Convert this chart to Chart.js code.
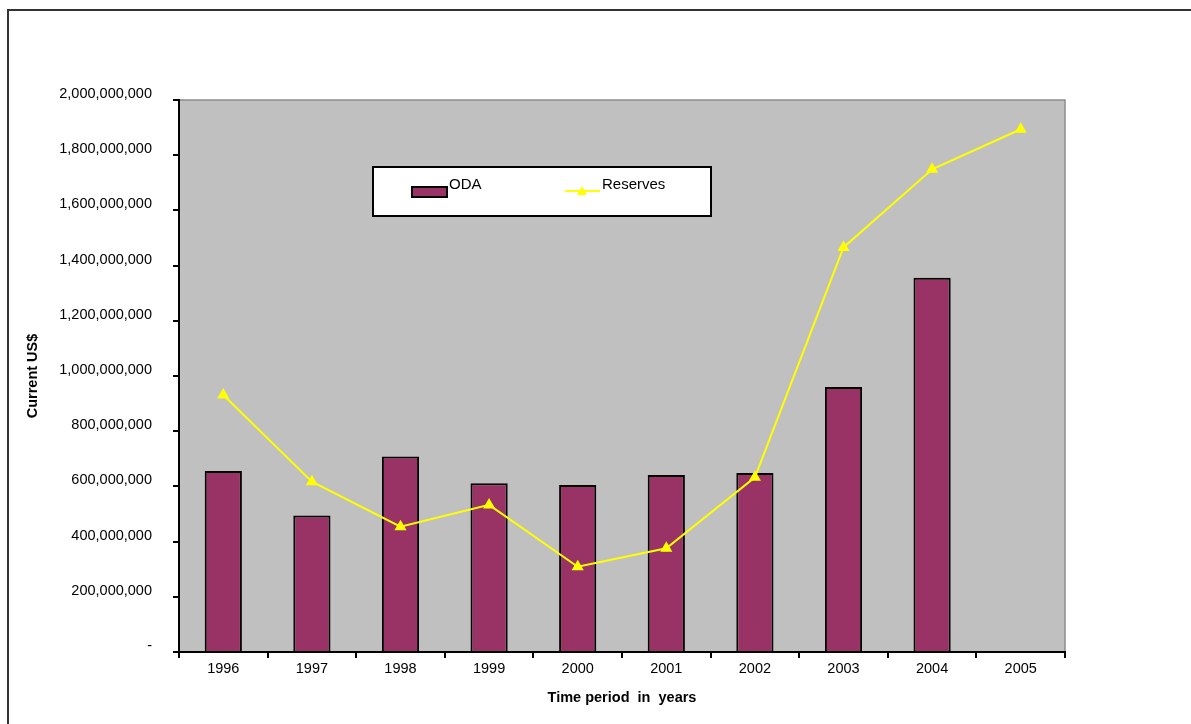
<!DOCTYPE html>
<html>
<head>
<meta charset="utf-8">
<title>ODA and Reserves</title>
<script src="https://cdn.jsdelivr.net/npm/chart.js@4"></script>
<style>
html,body{margin:0;padding:0;background:#fff;overflow:hidden;}
#wrap{position:relative;width:1191px;height:724px;overflow:hidden;}
#frame{position:absolute;left:7px;top:9px;width:1300px;height:800px;border:2px solid #333;}
#chart{position:absolute;left:0;top:0;}
</style>
</head>
<body>
<div id="wrap">
  <div id="frame"></div>
  <canvas id="chart" width="1191" height="724"></canvas>
</div>
<script>
const FONT='"Liberation Sans", Arial, sans-serif';

const years=["1996","1997","1998","1999","2000","2001","2002","2003","2004","2005"];
const oda=[656e6,495e6,708e6,611e6,605e6,641e6,649e6,960e6,1356e6,null];
const reserves=[931e6,617e6,454e6,533e6,309e6,376e6,633e6,1466e6,1749e6,1894e6];
const seriesNames=["ODA","Reserves"];
const odaColor="#993366";
const reservesColor="#ffff00";

// grey plot area with a thin darker edge on top and right
const plotBg={
  id:"plotBg",
  beforeDraw(chart){
    const {ctx,chartArea:a}=chart;
    ctx.save();
    ctx.fillStyle="#c0c0c0";
    ctx.fillRect(a.left,a.top,a.right-a.left,a.bottom-a.top);
    ctx.strokeStyle="#8c8c8c";
    ctx.lineWidth=1.5;
    ctx.beginPath();
    ctx.moveTo(a.left,a.top);
    ctx.lineTo(a.right,a.top);
    ctx.lineTo(a.right,a.bottom);
    ctx.stroke();
    ctx.restore();
  }
};

// boxed legend sitting inside the plot
const boxLegend={
  id:"boxLegend",
  afterDraw(chart){
    const ctx=chart.ctx;
    ctx.save();
    ctx.fillStyle="#fff";
    ctx.fillRect(373,167,338,49);
    ctx.strokeStyle="#000";
    ctx.lineWidth=2;
    ctx.strokeRect(373,167,338,49);

    // ODA swatch
    ctx.fillStyle=odaColor;
    ctx.fillRect(412,187,35,10);
    ctx.lineWidth=2;
    ctx.strokeRect(412,187,35,10);

    // Reserves line + triangle
    ctx.strokeStyle=reservesColor;
    ctx.lineWidth=2;
    ctx.beginPath();
    ctx.moveTo(565,191);
    ctx.lineTo(600,191);
    ctx.stroke();
    ctx.fillStyle=reservesColor;
    ctx.beginPath();
    ctx.moveTo(582,186);
    ctx.lineTo(587,195);
    ctx.lineTo(577,195);
    ctx.closePath();
    ctx.fill();

    ctx.fillStyle="#000";
    ctx.font="15px "+FONT;
    ctx.textBaseline="middle";
    ctx.textAlign="left";
    ctx.fillText(seriesNames[0],449,185);
    ctx.fillText(seriesNames[1],602,185);
    ctx.restore();
  }
};

const ctx=document.getElementById("chart").getContext("2d");
new Chart(ctx,{
  data:{
    labels:years,
    datasets:[
      {
        type:"line",
        label:seriesNames[1],
        data:reserves,
        borderColor:reservesColor,
        backgroundColor:reservesColor,
        borderWidth:2,
        pointStyle:"triangle",
        pointRadius:5,
        pointBackgroundColor:reservesColor,
        pointBorderColor:reservesColor,
        tension:0,
        order:0
      },
      {
        type:"bar",
        label:seriesNames[0],
        data:oda,
        backgroundColor:odaColor,
        borderColor:"#000",
        borderWidth:2,
        barPercentage:0.42,
        categoryPercentage:1,
        order:1
      }
    ]
  },
  options:{
    responsive:false,
    animation:false,
    devicePixelRatio:1,
    layout:{padding:{top:100,right:126,left:0,bottom:0}},
    plugins:{
      legend:{display:false},
      tooltip:{enabled:false}
    },
    scales:{
      x:{
        afterFit(s){s.height=72;},
        grid:{display:true,drawOnChartArea:false,drawTicks:true,tickLength:6,color:"#000",lineWidth:2,offset:true},
        border:{display:true,color:"#000",width:2},
        ticks:{color:"#000",font:{family:FONT,size:14.5},padding:2,maxRotation:0,autoSkip:false},
        title:{display:true,text:"Time period  in  years",color:"#000",
          font:{family:FONT,size:14.5,weight:"bold"},padding:{top:0,bottom:17}}
      },
      y:{
        min:0,
        max:2e9,
        afterFit(s){s.width=179;},
        grid:{display:true,drawOnChartArea:false,drawTicks:true,tickLength:6,color:"#000",lineWidth:2},
        border:{display:true,color:"#000",width:2},
        ticks:{
          stepSize:2e8,
          color:"#000",
          font:{family:FONT,size:14.5},
          padding:21,
          labelOffset:-6,
          callback:v=>v===0?"-":v.toLocaleString("en-US")
        },
        title:{display:true,text:"Current US$",color:"#000",
          font:{family:FONT,size:14.5,weight:"bold"},padding:{top:24,bottom:0}}
      }
    }
  },
  plugins:[plotBg,boxLegend]
});
</script>
</body>
</html>
